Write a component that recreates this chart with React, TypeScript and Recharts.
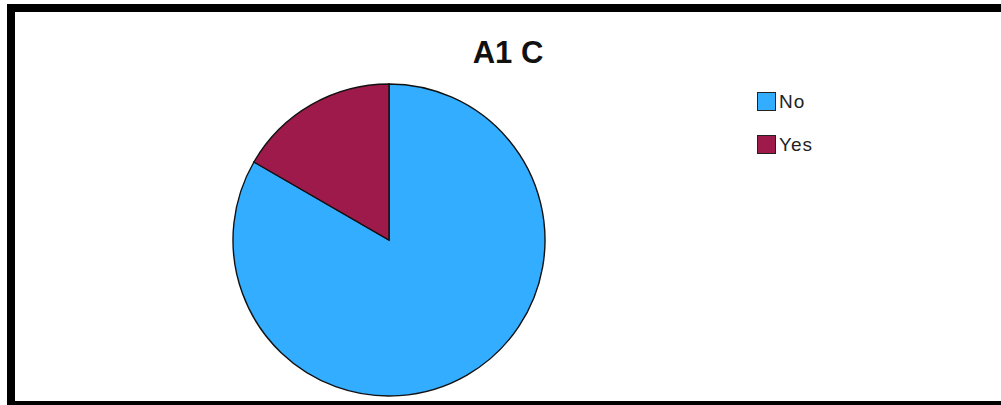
import React from 'react';
import { PieChart, Pie, Cell, Legend } from 'recharts';

const categories = ['No', 'Yes'];
const counts = [25, 5];
const colors = ['#33ADFF', '#9E1A4A'];

const data = categories.map((name, i) => ({ name, value: counts[i] }));

const LEGEND_W = 120;

const renderLegend = (props: any) => {
    const { payload } = props;
    return (
        <div style={{ fontFamily: '"Liberation Sans", Arial, sans-serif', fontSize: 19, color: '#222' }}>
            {payload.map((entry: any, i: number) => (
                <div key={i} style={{ display: 'flex', alignItems: 'center', height: 43 }}>
                    <span
                        style={{
                            display: 'inline-block',
                            width: 17,
                            height: 17,
                            background: entry.color,
                            border: '1px solid #222',
                            marginRight: 3,
                        }}
                    />
                    <span style={{ letterSpacing: 1 }}>{entry.value}</span>
                </div>
            ))}
        </div>
    );
};

const App: React.FC = () => {
    return (
        <div style={{ position: 'absolute', left: 0, top: 0, width: 1001, height: 405, background: '#fff' }}>
            {/* frame */}
            <div style={{ position: 'absolute', left: 7, top: 4, width: 994, height: 8, background: '#000' }} />
            <div style={{ position: 'absolute', left: 7, top: 4, width: 8, height: 401, background: '#000' }} />
            <div style={{ position: 'absolute', left: 7, top: 401, width: 994, height: 4, background: '#000' }} />

            <div
                style={{
                    position: 'absolute',
                    left: 358,
                    top: 35,
                    width: 300,
                    textAlign: 'center',
                    fontFamily: '"Liberation Sans", Arial, sans-serif',
                    fontWeight: 'bold',
                    fontSize: 31,
                    lineHeight: '36px',
                    color: '#111',
                }}
            >
                A1 C
            </div>

            <div style={{ position: 'absolute', left: 0, top: 0 }}>
                <PieChart width={1001} height={405} margin={{ top: 0, right: 0, bottom: 0, left: 0 }}>
                    <Pie
                        data={data}
                        dataKey="value"
                        nameKey="name"
                        cx={389 - LEGEND_W}
                        cy={240}
                        outerRadius={156}
                        startAngle={90}
                        endAngle={-270}
                        stroke="#111"
                        strokeWidth={1.4}
                        isAnimationActive={false}
                    >
                        {data.map((d, i) => (
                            <Cell key={d.name} fill={colors[i]} />
                        ))}
                    </Pie>
                    <Legend
                        layout="vertical"
                        verticalAlign="top"
                        align="left"
                        wrapperStyle={{ left: 757, top: 80, width: LEGEND_W }}
                        content={renderLegend}
                    />
                </PieChart>
            </div>
        </div>
    );
};

export default App;
